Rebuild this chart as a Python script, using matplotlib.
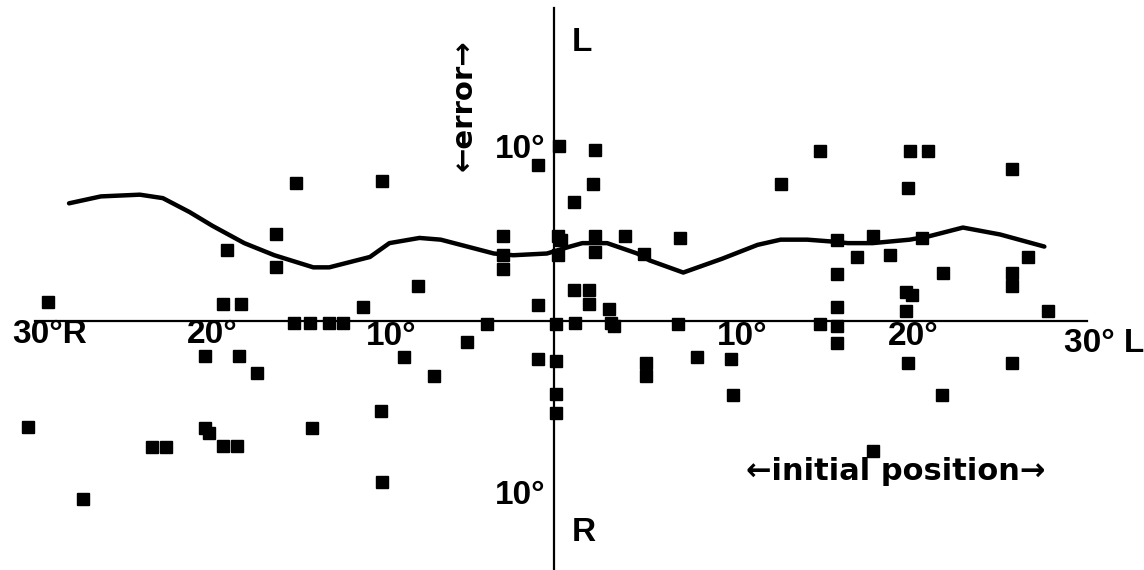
import numpy as np
import matplotlib
matplotlib.use('Agg')
import matplotlib.pyplot as plt

plt.rcParams['font.family'] = ['Liberation Sans', 'DejaVu Sans']
plt.rcParams['font.weight'] = 'bold'

# initial position (deg, + = L, - = R) and error (deg, + = L, - = R)
pos_x = [-28.6, -18.5, -15.7, -15.7, -18.7, -17.7, -14.6, -14.7, -29.7, -26.6,
         -19.7, -17.8, -16.8, -19.7, -19.5, -22.7, -21.9, -18.7, -17.9, -9.7,
         -0.9, 1.1, -2.9, -2.9, -2.9, 0.2, 0.4, 0.2, -7.7, 1.1,
         -0.9, -10.8, -13.8, -12.7, -11.9, -3.8, 0.1, 1.2, -4.9, -8.5,
         -6.8, -9.8, -13.7, -9.7, -0.9, 0.1, 0.1, 0.1, 0.3, 2.3,
         2.2, 15.0, 12.8, 2.3, 2.3, 4.0, 5.1, 7.1, 2.0, 2.0,
         3.1, 3.2, 3.4, 7.0, 16.0, 16.0, 16.0, 15.0, 16.0, 16.0,
         5.2, 5.2, 8.1, 10.0, 10.1, 20.1, 21.1, 25.9, 20.0, 18.0,
         20.8, 17.1, 19.0, 26.8, 22.0, 25.9, 25.9, 19.9, 20.2, 19.9,
         27.9, 20.0, 25.9, 21.9, 18.0]
err_y = [1.1, 4.1, 5.0, 3.1, 1.0, 1.0, 8.0, -0.1, -6.1, -10.3,
         -2.0, -2.0, -3.0, -6.2, -6.5, -7.3, -7.3, -7.2, -7.2, 8.1,
         9.0, 6.9, 4.9, 3.8, 3.0, 4.9, 4.7, 3.8, 2.0, 1.8,
         0.9, 0.8, -0.1, -0.1, -0.1, -0.2, -0.2, -0.1, -1.2, -2.1,
         -3.2, -5.2, -6.2, -9.3, -2.2, -2.3, -4.2, -5.3, 10.1, 9.9,
         7.9, 9.8, 7.9, 4.9, 4.0, 4.9, 3.9, 4.8, 1.8, 1.0,
         0.7, -0.1, -0.3, -0.2, 4.7, 2.7, 0.8, -0.2, -0.3, -1.3,
         -2.4, -3.2, -2.1, -2.2, -4.3, 9.8, 9.8, 8.8, 7.7, 4.9,
         4.8, 3.7, 3.8, 3.7, 2.8, 2.8, 2.0, 1.7, 1.5, 0.6,
         0.6, -2.4, -2.4, -4.3, -7.5]

# mean error curve
curve_x = [-27.4, -25.6, -23.4, -22.1, -20.6, -19.3, -17.5, -15.8, -13.6, -12.7,
           -10.4, -9.3, -7.6, -6.4, -4.9, -3.4, -2.3, -0.4, 0.9, 1.6,
           3.0, 4.7, 5.4, 7.3, 9.5, 11.5, 12.8, 14.3, 15.6, 16.6,
           18.0, 20.1, 21.2, 23.1, 25.2, 27.7]
curve_y = [6.8, 7.2, 7.3, 7.1, 6.3, 5.5, 4.5, 3.8, 3.1, 3.1,
           3.7, 4.5, 4.8, 4.7, 4.3, 3.9, 3.8, 3.9, 4.3, 4.5,
           4.5, 3.9, 3.5, 2.8, 3.6, 4.4, 4.7, 4.7, 4.6, 4.5,
           4.5, 4.7, 4.9, 5.4, 5.0, 4.3]

x_tick_pos = [-28.5, -19.3, -9.2, 10.6, 20.3, 31.1]
x_tick_lab = ['30°R', '20°', '10°', '10°', '20°', '30° L']
x_tick_y = [-0.8, -0.8, -0.9, -0.9, -0.9, -1.3]

fig = plt.figure(figsize=(11.44, 5.70), dpi=100)
ax = fig.add_axes([0, 0, 1, 1])
ax.set_xlim(-31.3, 33.33)
ax.set_ylim(-14.39, 18.55)
ax.axis('off')

# axes
ax.plot([-29.3, 30.1], [0, 0], color='black', lw=1.6)
ax.plot([0, 0], [-14.5, 18.1], color='black', lw=1.6)

ax.plot(curve_x, curve_y, color='black', lw=3.2,
        solid_capstyle='round', solid_joinstyle='round')
ax.plot(pos_x, err_y, 's', color='black', ms=8.5)

for xp, yp, lab in zip(x_tick_pos, x_tick_y, x_tick_lab):
    ax.text(xp, yp, lab, fontsize=24, ha='center', va='center')

ax.text(-1.9, 9.9, '10°', fontsize=24, ha='center', va='center')
ax.text(-1.9, -10.1, '10°', fontsize=24, ha='center', va='center')
ax.text(1.0, 16.1, 'L', fontsize=24, ha='left', va='center')
ax.text(1.0, -12.2, 'R', fontsize=24, ha='left', va='center')

ax.text(-5.1, 12.5, '←error→', fontsize=21, rotation=90, ha='center',
        va='center', family='DejaVu Sans')
ax.text(19.3, -8.7, '←initial position→', fontsize=22, ha='center',
        va='center', family='DejaVu Sans')

fig.savefig('out.png', dpi=100)
